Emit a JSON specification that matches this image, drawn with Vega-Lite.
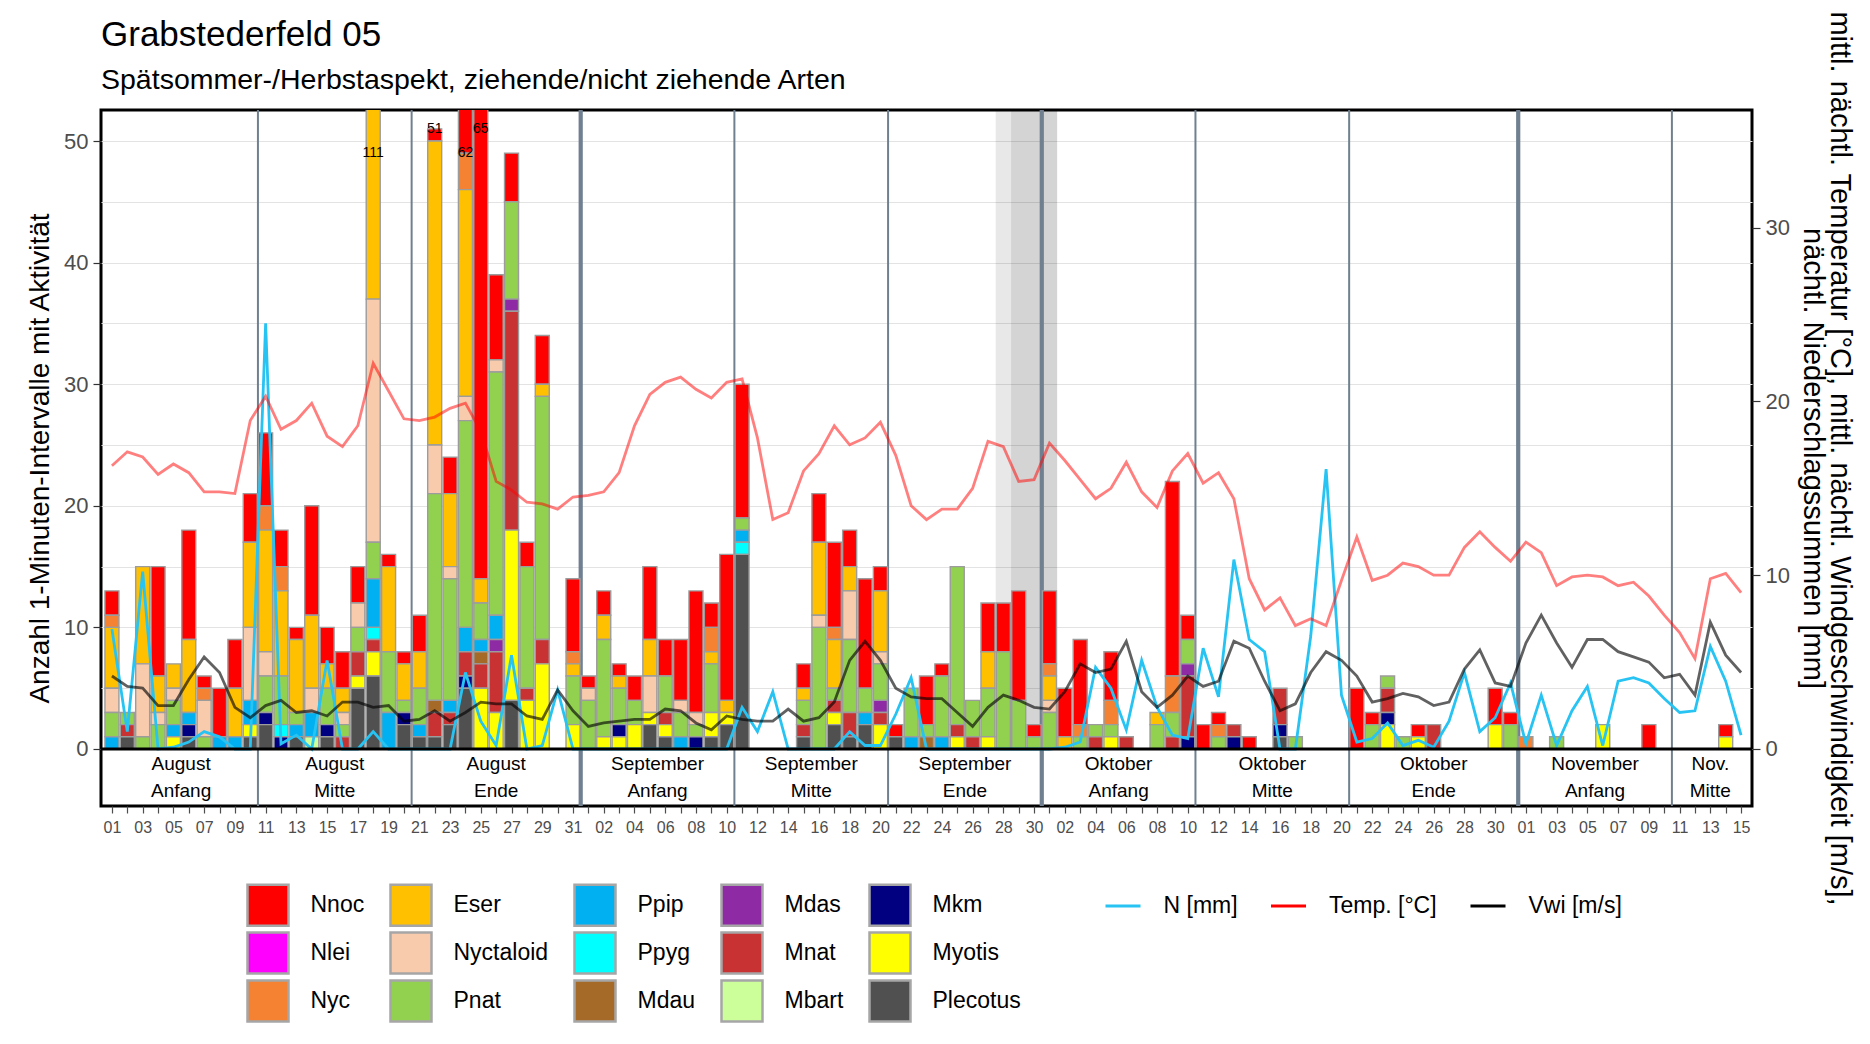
{
  "$schema": "https://vega.github.io/schema/vega-lite/v6.json",
  "width": 1651,
  "height": 696,
  "padding": {"left": 26, "top": 10, "right": 5, "bottom": 5},
  "background": "white",
  "title": {
    "text": "Grabstederfeld 05",
    "subtitle": "Spätsommer-/Herbstaspekt, ziehende/nicht ziehende Arten",
    "anchor": "start",
    "frame": "group",
    "fontSize": 35,
    "fontWeight": "normal",
    "color": "black",
    "subtitleFontSize": 28.5,
    "subtitleColor": "black",
    "subtitlePadding": 13,
    "offset": -84
  },
  "config": {
    "font": "Liberation Sans",
    "view": {"stroke": "black", "strokeWidth": 3},
    "legend": {"labelFont": "Liberation Sans", "padding": 0}
  },
  "datasets": {
    "bats": [
      {"date":"2021-08-01","Nnoc":2,"Nyc":1,"Eser":5,"Nyctaloid":2,"Pnat":2,"Ppip":1},
      {"date":"2021-08-02","Pnat":1,"Mnat":1,"Plecotus":1},
      {"date":"2021-08-03","Eser":8,"Nyctaloid":6,"Pnat":1},
      {"date":"2021-08-04","Nnoc":9,"Eser":3,"Nyctaloid":1,"Pnat":2},
      {"date":"2021-08-05","Eser":2,"Nyctaloid":1,"Pnat":2,"Ppip":1,"Myotis":1},
      {"date":"2021-08-06","Nnoc":9,"Eser":6,"Ppip":1,"Mkm":1,"Plecotus":1},
      {"date":"2021-08-07","Nnoc":1,"Nyc":1,"Nyctaloid":3,"Pnat":1},
      {"date":"2021-08-08","Nnoc":4,"Ppip":1},
      {"date":"2021-08-09","Nnoc":4,"Eser":4,"Ppip":1},
      {"date":"2021-08-10","Nnoc":4,"Eser":7,"Nyctaloid":6,"Ppip":2,"Myotis":1,"Plecotus":1},
      {"date":"2021-08-11","Nnoc":6,"Nyc":2,"Eser":10,"Nyctaloid":2,"Pnat":3,"Mkm":1,"Plecotus":2},
      {"date":"2021-08-12","Nnoc":3,"Nyc":2,"Eser":7,"Pnat":4,"Ppyg":1,"Mkm":1},
      {"date":"2021-08-13","Nnoc":1,"Eser":6,"Pnat":1,"Ppip":1,"Plecotus":1},
      {"date":"2021-08-14","Nnoc":9,"Eser":6,"Nyctaloid":2,"Ppip":2,"Mbart":1},
      {"date":"2021-08-15","Nnoc":3,"Eser":2,"Pnat":3,"Mkm":1,"Plecotus":1},
      {"date":"2021-08-16","Nnoc":3,"Eser":2,"Nyctaloid":1,"Pnat":1,"Mnat":1},
      {"date":"2021-08-17","Nnoc":3,"Nyctaloid":2,"Pnat":2,"Mnat":2,"Myotis":1,"Plecotus":5},
      {"date":"2021-08-18","Eser":74,"Nyctaloid":20,"Pnat":3,"Ppip":4,"Ppyg":1,"Mnat":1,"Myotis":2,"Plecotus":6},
      {"date":"2021-08-19","Nnoc":1,"Eser":7,"Pnat":5,"Ppip":3},
      {"date":"2021-08-20","Nnoc":1,"Eser":3,"Pnat":1,"Mkm":1,"Plecotus":2},
      {"date":"2021-08-21","Nnoc":3,"Eser":3,"Pnat":3,"Ppip":1,"Plecotus":1},
      {"date":"2021-08-22","Nnoc":1,"Eser":25,"Nyctaloid":4,"Pnat":17,"Mdau":1,"Mnat":2,"Plecotus":1},
      {"date":"2021-08-23","Nnoc":3,"Eser":6,"Nyctaloid":1,"Pnat":10,"Ppip":1,"Mnat":1,"Plecotus":2},
      {"date":"2021-08-24","Nnoc":13,"Nyc":3,"Eser":17,"Nyctaloid":2,"Pnat":17,"Ppip":2,"Mnat":2,"Mkm":1,"Plecotus":5},
      {"date":"2021-08-25","Nnoc":51,"Eser":2,"Pnat":3,"Ppip":1,"Mdau":1,"Mnat":2,"Myotis":5},
      {"date":"2021-08-26","Nnoc":7,"Nyctaloid":1,"Pnat":20,"Ppip":2,"Mdas":1,"Mnat":5,"Myotis":3},
      {"date":"2021-08-27","Nnoc":4,"Pnat":8,"Mdas":1,"Mnat":18,"Myotis":14,"Plecotus":4},
      {"date":"2021-08-28","Nnoc":2,"Pnat":10,"Mnat":1,"Myotis":4},
      {"date":"2021-08-29","Nnoc":4,"Eser":1,"Pnat":20,"Mnat":2,"Myotis":7},
      {"date":"2021-08-30"},
      {"date":"2021-08-31","Nnoc":6,"Nyc":1,"Eser":1,"Pnat":4,"Myotis":2},
      {"date":"2021-09-01","Nnoc":1,"Nyctaloid":1,"Pnat":4},
      {"date":"2021-09-02","Nnoc":2,"Eser":2,"Pnat":8,"Myotis":1},
      {"date":"2021-09-03","Nnoc":1,"Eser":1,"Pnat":3,"Mkm":1,"Myotis":1},
      {"date":"2021-09-04","Nnoc":2,"Pnat":2,"Myotis":2},
      {"date":"2021-09-05","Nnoc":6,"Eser":3,"Nyctaloid":3,"Myotis":1,"Plecotus":2},
      {"date":"2021-09-06","Nnoc":3,"Pnat":3,"Mnat":1,"Myotis":1,"Plecotus":1},
      {"date":"2021-09-07","Nnoc":5,"Nyctaloid":1,"Pnat":2,"Ppip":1},
      {"date":"2021-09-08","Nnoc":10,"Nyctaloid":1,"Pnat":1,"Mkm":1},
      {"date":"2021-09-09","Nnoc":2,"Nyc":2,"Eser":1,"Pnat":4,"Myotis":2,"Plecotus":1},
      {"date":"2021-09-10","Nnoc":12,"Eser":1,"Myotis":1,"Plecotus":2},
      {"date":"2021-09-11","Nnoc":11,"Pnat":1,"Ppip":1,"Ppyg":1,"Plecotus":16},
      {"date":"2021-09-12"},
      {"date":"2021-09-13"},
      {"date":"2021-09-14"},
      {"date":"2021-09-15","Nnoc":2,"Eser":1,"Pnat":2,"Mnat":1,"Plecotus":1},
      {"date":"2021-09-16","Nnoc":4,"Eser":6,"Nyctaloid":1,"Pnat":10},
      {"date":"2021-09-17","Nnoc":7,"Nyc":1,"Eser":4,"Pnat":1,"Mnat":1,"Myotis":1,"Plecotus":2},
      {"date":"2021-09-18","Nnoc":3,"Eser":2,"Nyctaloid":4,"Pnat":6,"Mnat":2,"Plecotus":1},
      {"date":"2021-09-19","Nnoc":9,"Pnat":2,"Ppip":1,"Plecotus":2},
      {"date":"2021-09-20","Nnoc":2,"Eser":5,"Nyctaloid":1,"Pnat":3,"Mdas":1,"Mnat":1,"Myotis":2},
      {"date":"2021-09-21","Nnoc":1,"Plecotus":1},
      {"date":"2021-09-22","Pnat":4,"Ppip":1},
      {"date":"2021-09-23","Nnoc":4,"Pnat":1,"Mdau":1},
      {"date":"2021-09-24","Nnoc":1,"Pnat":5,"Ppip":1},
      {"date":"2021-09-25","Pnat":13,"Mnat":1,"Myotis":1},
      {"date":"2021-09-26","Pnat":3,"Mnat":1},
      {"date":"2021-09-27","Nnoc":4,"Eser":3,"Pnat":4,"Myotis":1},
      {"date":"2021-09-28","Nnoc":4,"Pnat":8},
      {"date":"2021-09-29","Nnoc":9,"Pnat":4},
      {"date":"2021-09-30","Nnoc":1,"Pnat":1},
      {"date":"2021-10-01","Nnoc":6,"Nyc":1,"Eser":2,"Nyctaloid":1,"Pnat":3},
      {"date":"2021-10-02","Nnoc":4,"Eser":1},
      {"date":"2021-10-03","Nnoc":7,"Nyc":1,"Pnat":1},
      {"date":"2021-10-04","Pnat":1,"Mnat":1},
      {"date":"2021-10-05","Nnoc":4,"Nyc":2,"Pnat":1,"Myotis":1},
      {"date":"2021-10-06","Mnat":1},
      {"date":"2021-10-07"},
      {"date":"2021-10-08","Eser":1,"Pnat":2},
      {"date":"2021-10-09","Nnoc":16,"Nyc":3,"Pnat":2,"Mnat":1},
      {"date":"2021-10-10","Nnoc":2,"Pnat":2,"Mdas":1,"Mnat":5,"Mkm":1},
      {"date":"2021-10-11","Nnoc":2},
      {"date":"2021-10-12","Nnoc":1,"Nyc":1,"Pnat":1},
      {"date":"2021-10-13","Mnat":1,"Mkm":1},
      {"date":"2021-10-14","Nnoc":1},
      {"date":"2021-10-15"},
      {"date":"2021-10-16","Mnat":3,"Mkm":1,"Plecotus":1},
      {"date":"2021-10-17","Pnat":1},
      {"date":"2021-10-18"},
      {"date":"2021-10-19"},
      {"date":"2021-10-20"},
      {"date":"2021-10-21","Nnoc":5},
      {"date":"2021-10-22","Nnoc":1,"Pnat":2},
      {"date":"2021-10-23","Pnat":1,"Mnat":2,"Mkm":1,"Myotis":2},
      {"date":"2021-10-24","Pnat":1},
      {"date":"2021-10-25","Nnoc":1,"Myotis":1},
      {"date":"2021-10-26","Mnat":2},
      {"date":"2021-10-27"},
      {"date":"2021-10-28"},
      {"date":"2021-10-29"},
      {"date":"2021-10-30","Nnoc":3,"Myotis":2},
      {"date":"2021-10-31","Nnoc":1,"Pnat":2},
      {"date":"2021-11-01","Nyc":1},
      {"date":"2021-11-02"},
      {"date":"2021-11-03","Pnat":1},
      {"date":"2021-11-04"},
      {"date":"2021-11-05"},
      {"date":"2021-11-06","Myotis":2},
      {"date":"2021-11-07"},
      {"date":"2021-11-08"},
      {"date":"2021-11-09","Nnoc":2},
      {"date":"2021-11-10"},
      {"date":"2021-11-11"},
      {"date":"2021-11-12"},
      {"date":"2021-11-13"},
      {"date":"2021-11-14","Nnoc":1,"Myotis":1},
      {"date":"2021-11-15"}
    ],
    "weather": [
      {"date":"2021-08-01","N":6.9,"Temp":16.3,"Vwi":4.2},
      {"date":"2021-08-02","N":1.0,"Temp":17.1,"Vwi":3.6},
      {"date":"2021-08-03","N":10.2,"Temp":16.8,"Vwi":3.5},
      {"date":"2021-08-04","N":0,"Temp":15.8,"Vwi":2.5},
      {"date":"2021-08-05","N":0.1,"Temp":16.4,"Vwi":2.5},
      {"date":"2021-08-06","N":0.4,"Temp":15.9,"Vwi":4.0},
      {"date":"2021-08-07","N":1.0,"Temp":14.8,"Vwi":5.3},
      {"date":"2021-08-08","N":0.7,"Temp":14.8,"Vwi":4.4},
      {"date":"2021-08-09","N":0,"Temp":14.7,"Vwi":2.4},
      {"date":"2021-08-10","N":0,"Temp":18.9,"Vwi":1.8},
      {"date":"2021-08-11","N":24.5,"Temp":20.3,"Vwi":2.5},
      {"date":"2021-08-12","N":0.3,"Temp":18.4,"Vwi":2.8},
      {"date":"2021-08-13","N":0.8,"Temp":18.9,"Vwi":2.1},
      {"date":"2021-08-14","N":0,"Temp":19.9,"Vwi":2.2},
      {"date":"2021-08-15","N":5.1,"Temp":18.0,"Vwi":1.9},
      {"date":"2021-08-16","N":0,"Temp":17.4,"Vwi":2.7},
      {"date":"2021-08-17","N":0,"Temp":18.6,"Vwi":2.7},
      {"date":"2021-08-18","N":1.0,"Temp":22.2,"Vwi":2.4},
      {"date":"2021-08-19","N":0,"Temp":20.6,"Vwi":2.5},
      {"date":"2021-08-20","N":0,"Temp":19.0,"Vwi":1.6},
      {"date":"2021-08-21","N":0,"Temp":18.9,"Vwi":1.7},
      {"date":"2021-08-22","N":0,"Temp":19.1,"Vwi":2.2},
      {"date":"2021-08-23","N":0,"Temp":19.6,"Vwi":1.6},
      {"date":"2021-08-24","N":4.4,"Temp":19.9,"Vwi":2.1},
      {"date":"2021-08-25","N":1.6,"Temp":18.3,"Vwi":2.7},
      {"date":"2021-08-26","N":0.2,"Temp":15.4,"Vwi":2.6},
      {"date":"2021-08-27","N":5.4,"Temp":14.9,"Vwi":2.6},
      {"date":"2021-08-28","N":0,"Temp":14.2,"Vwi":1.9},
      {"date":"2021-08-29","N":0.2,"Temp":14.1,"Vwi":1.7},
      {"date":"2021-08-30","N":3.4,"Temp":13.8,"Vwi":3.4},
      {"date":"2021-08-31","N":0,"Temp":14.5,"Vwi":2.2},
      {"date":"2021-09-01","N":0,"Temp":14.6,"Vwi":1.3},
      {"date":"2021-09-02","N":0,"Temp":14.8,"Vwi":1.5},
      {"date":"2021-09-03","N":0,"Temp":15.9,"Vwi":1.6},
      {"date":"2021-09-04","N":0,"Temp":18.6,"Vwi":1.7},
      {"date":"2021-09-05","N":0,"Temp":20.4,"Vwi":1.7},
      {"date":"2021-09-06","N":0,"Temp":21.1,"Vwi":2.3},
      {"date":"2021-09-07","N":0,"Temp":21.4,"Vwi":2.2},
      {"date":"2021-09-08","N":0,"Temp":20.7,"Vwi":1.5},
      {"date":"2021-09-09","N":0,"Temp":20.2,"Vwi":1.1},
      {"date":"2021-09-10","N":0,"Temp":21.1,"Vwi":1.9},
      {"date":"2021-09-11","N":2.4,"Temp":21.3,"Vwi":1.7},
      {"date":"2021-09-12","N":1.0,"Temp":17.9,"Vwi":1.6},
      {"date":"2021-09-13","N":3.3,"Temp":13.2,"Vwi":1.6},
      {"date":"2021-09-14","N":0,"Temp":13.6,"Vwi":2.3},
      {"date":"2021-09-15","N":0,"Temp":16.0,"Vwi":1.6},
      {"date":"2021-09-16","N":0,"Temp":17.0,"Vwi":1.8},
      {"date":"2021-09-17","N":0,"Temp":18.6,"Vwi":2.7},
      {"date":"2021-09-18","N":1.0,"Temp":17.5,"Vwi":5.1},
      {"date":"2021-09-19","N":0.2,"Temp":17.9,"Vwi":6.2},
      {"date":"2021-09-20","N":0.2,"Temp":18.8,"Vwi":5.1},
      {"date":"2021-09-21","N":2.0,"Temp":16.9,"Vwi":3.5},
      {"date":"2021-09-22","N":4.1,"Temp":14.0,"Vwi":3.0},
      {"date":"2021-09-23","N":0,"Temp":13.2,"Vwi":2.9},
      {"date":"2021-09-24","N":0,"Temp":13.8,"Vwi":2.9},
      {"date":"2021-09-25","N":0,"Temp":13.8,"Vwi":2.1},
      {"date":"2021-09-26","N":0,"Temp":15.0,"Vwi":1.3},
      {"date":"2021-09-27","N":0,"Temp":17.7,"Vwi":2.4},
      {"date":"2021-09-28","N":0,"Temp":17.4,"Vwi":3.1},
      {"date":"2021-09-29","N":0,"Temp":15.4,"Vwi":2.8},
      {"date":"2021-09-30","N":0,"Temp":15.5,"Vwi":2.4},
      {"date":"2021-10-01","N":0,"Temp":17.6,"Vwi":2.3},
      {"date":"2021-10-02","N":0.1,"Temp":16.6,"Vwi":3.3},
      {"date":"2021-10-03","N":0.4,"Temp":15.5,"Vwi":4.9},
      {"date":"2021-10-04","N":4.7,"Temp":14.4,"Vwi":4.4},
      {"date":"2021-10-05","N":3.5,"Temp":15.0,"Vwi":4.6},
      {"date":"2021-10-06","N":1.1,"Temp":16.5,"Vwi":6.2},
      {"date":"2021-10-07","N":5.1,"Temp":14.8,"Vwi":3.3},
      {"date":"2021-10-08","N":2.4,"Temp":13.9,"Vwi":2.4},
      {"date":"2021-10-09","N":0.8,"Temp":16.0,"Vwi":3.1},
      {"date":"2021-10-10","N":0.6,"Temp":17.0,"Vwi":4.2},
      {"date":"2021-10-11","N":5.8,"Temp":15.3,"Vwi":3.6},
      {"date":"2021-10-12","N":3.0,"Temp":15.9,"Vwi":3.9},
      {"date":"2021-10-13","N":10.9,"Temp":14.4,"Vwi":6.2},
      {"date":"2021-10-14","N":6.3,"Temp":9.8,"Vwi":5.8},
      {"date":"2021-10-15","N":5.6,"Temp":8.0,"Vwi":3.9},
      {"date":"2021-10-16","N":0,"Temp":8.7,"Vwi":2.2},
      {"date":"2021-10-17","N":0,"Temp":7.1,"Vwi":2.6},
      {"date":"2021-10-18","N":6.5,"Temp":7.5,"Vwi":4.4},
      {"date":"2021-10-19","N":16.1,"Temp":7.1,"Vwi":5.6},
      {"date":"2021-10-20","N":3.1,"Temp":9.7,"Vwi":5.1},
      {"date":"2021-10-21","N":0.4,"Temp":12.2,"Vwi":4.2},
      {"date":"2021-10-22","N":0.6,"Temp":9.7,"Vwi":2.7},
      {"date":"2021-10-23","N":1.5,"Temp":10.0,"Vwi":2.9},
      {"date":"2021-10-24","N":0.2,"Temp":10.7,"Vwi":3.2},
      {"date":"2021-10-25","N":0.5,"Temp":10.5,"Vwi":3.0},
      {"date":"2021-10-26","N":0.1,"Temp":10.0,"Vwi":2.5},
      {"date":"2021-10-27","N":1.6,"Temp":10.0,"Vwi":2.7},
      {"date":"2021-10-28","N":4.4,"Temp":11.6,"Vwi":4.6},
      {"date":"2021-10-29","N":1.0,"Temp":12.5,"Vwi":5.7},
      {"date":"2021-10-30","N":1.8,"Temp":11.6,"Vwi":3.8},
      {"date":"2021-10-31","N":3.8,"Temp":10.8,"Vwi":3.6},
      {"date":"2021-11-01","N":0.3,"Temp":11.9,"Vwi":6.1},
      {"date":"2021-11-02","N":3.1,"Temp":11.3,"Vwi":7.7},
      {"date":"2021-11-03","N":0.2,"Temp":9.4,"Vwi":6.1},
      {"date":"2021-11-04","N":2.2,"Temp":9.9,"Vwi":4.7},
      {"date":"2021-11-05","N":3.6,"Temp":10.0,"Vwi":6.3},
      {"date":"2021-11-06","N":0.2,"Temp":9.9,"Vwi":6.3},
      {"date":"2021-11-07","N":3.9,"Temp":9.4,"Vwi":5.6},
      {"date":"2021-11-08","N":4.1,"Temp":9.6,"Vwi":5.3},
      {"date":"2021-11-09","N":3.8,"Temp":8.8,"Vwi":5.0},
      {"date":"2021-11-10","N":2.9,"Temp":7.7,"Vwi":4.1},
      {"date":"2021-11-11","N":2.1,"Temp":6.7,"Vwi":4.3},
      {"date":"2021-11-12","N":2.2,"Temp":5.2,"Vwi":3.1},
      {"date":"2021-11-13","N":5.9,"Temp":9.8,"Vwi":7.3},
      {"date":"2021-11-14","N":3.9,"Temp":10.1,"Vwi":5.4},
      {"date":"2021-11-15","N":0.8,"Temp":9.0,"Vwi":4.4}
    ],
    "periods": [
      {"month":"August","part":"Anfang","start":"2021-08-01","end":"2021-08-10"},
      {"month":"August","part":"Mitte","start":"2021-08-11","end":"2021-08-20"},
      {"month":"August","part":"Ende","start":"2021-08-21","end":"2021-08-31"},
      {"month":"September","part":"Anfang","start":"2021-09-01","end":"2021-09-10"},
      {"month":"September","part":"Mitte","start":"2021-09-11","end":"2021-09-20"},
      {"month":"September","part":"Ende","start":"2021-09-21","end":"2021-09-30"},
      {"month":"Oktober","part":"Anfang","start":"2021-10-01","end":"2021-10-10"},
      {"month":"Oktober","part":"Mitte","start":"2021-10-11","end":"2021-10-20"},
      {"month":"Oktober","part":"Ende","start":"2021-10-21","end":"2021-10-31"},
      {"month":"November","part":"Anfang","start":"2021-11-01","end":"2021-11-10"},
      {"month":"Nov.","part":"Mitte","start":"2021-11-11","end":"2021-11-15"}
    ],
    "gaps": [
      {"start":"2021-09-28","end":"2021-09-28","status":"teilweise"},
      {"start":"2021-09-29","end":"2021-10-01","status":"Ausfall"}
    ]
  },
  "layer": [
    {
      "layer": [
        {
          "data": {"name": "gaps"},
          "transform": [
            {"calculate": "toDate(datum.start) - 43200000", "as": "x0"},
            {"calculate": "toDate(datum.end) + 43200000", "as": "x1"}
          ],
          "mark": {"type": "rect", "color": "black"},
          "encoding": {
            "x": {"field": "x0", "type": "temporal"},
            "x2": {"field": "x1"},
            "y": {"datum": 0, "type": "quantitative"},
            "y2": {"datum": 52.55},
            "fillOpacity": {"condition": {"test": "datum.status === 'teilweise'", "value": 0.09}, "value": 0.17}
          }
        },
        {
          "data": {"name": "periods"},
          "transform": [
            {"filter": "datum.start !== '2021-08-01'"},
            {"calculate": "toDate(datum.start) - 43200000", "as": "edge"}
          ],
          "mark": {"type": "rule", "color": "#708090", "clip": true},
          "encoding": {
            "x": {"field": "edge", "type": "temporal"},
            "strokeWidth": {"condition": {"test": "datum.part === 'Anfang'", "value": 4.2}, "value": 2}
          }
        },
        {
          "data": {"name": "bats"},
          "transform": [
            {"fold": ["Nnoc","Nlei","Nyc","Eser","Nyctaloid","Pnat","Ppip","Ppyg","Mdau","Mdas","Mnat","Mbart","Mkm","Myotis","Plecotus"], "as": ["Art", "n"]},
            {"filter": "datum.n > 0"},
            {"calculate": "indexof(['Plecotus','Myotis','Mkm','Mbart','Mnat','Mdas','Mdau','Ppyg','Ppip','Pnat','Nyctaloid','Eser','Nyc','Nlei','Nnoc'], datum.Art)", "as": "rank"}
          ],
          "mark": {"type": "bar", "size": 14, "stroke": "#9C9C9C", "strokeWidth": 1.4, "clip": true},
          "encoding": {
            "x": {
              "field": "date",
              "type": "temporal",
              "scale": {
                "type": "utc",
                "domain": [
                  {"year": 2021, "month": 7, "date": 31, "hours": 14, "minutes": 44, "utc": true},
                  {"year": 2021, "month": 11, "date": 15, "hours": 9, "minutes": 16, "utc": true}
                ]
              },
              "axis": {
                "orient": "bottom",
                "title": null,
                "domain": false,
                "grid": false,
                "tickCount": {"interval": "day", "step": 1},
                "tickSize": 7,
                "tickColor": "#4D4D4D",
                "tickWidth": 1.2,
                "labelExpr": "round((datum.value - utc(2021, 7, 1)) / 86400000) % 2 === 0 ? utcFormat(datum.value, '%d') : ''",
                "labelFontSize": 16,
                "labelColor": "#4D4D4D",
                "labelPadding": 6,
                "labelFlush": false,
                "labelOverlap": false,
                "labelBound": false
              }
            },
            "y": {
              "field": "n",
              "type": "quantitative",
              "stack": "zero",
              "scale": {"domain": [-4.69, 52.55], "nice": false, "zero": false},
              "axis": {
                "orient": "left",
                "values": [0, 5, 10, 15, 20, 25, 30, 35, 40, 45, 50],
                "labelExpr": "datum.value % 10 === 0 ? datum.label : ''",
                "tickColor": {"condition": {"test": "datum.value % 10 !== 0", "value": "transparent"}, "value": "#333333"},
                "tickSize": 8,
                "tickWidth": 1.2,
                "grid": true,
                "gridColor": "#E3E3E3",
                "gridWidth": 1.2,
                "domain": false,
                "labelFontSize": 22,
                "labelColor": "#4D4D4D",
                "labelPadding": 5,
                "title": "Anzahl 1-Minuten-Intervalle mit Aktivität",
                "titleFontSize": 28,
                "titleFontWeight": "normal",
                "titleColor": "black",
                "titlePadding": 9
              }
            },
            "color": {
              "field": "Art",
              "type": "nominal",
              "scale": {
                "domain": ["Nnoc","Nlei","Nyc","Eser","Nyctaloid","Pnat","Ppip","Ppyg","Mdau","Mdas","Mnat","Mbart","Mkm","Myotis","Plecotus"],
                "range": ["#FF0000","#FF00FF","#F58232","#FFC000","#F8CBAD","#92D050","#00B0F0","#00FFFF","#A66A28","#8E2AA3","#C83232","#CCFF99","#000080","#FFFF00","#505050"]
              },
              "legend": {
                "title": null,
                "orient": "none",
                "legendX": 145,
                "legendY": 773,
                "columns": 5,
                "symbolType": "square",
                "symbolSize": 1681,
                "symbolStrokeColor": "#A6A6A6",
                "symbolStrokeWidth": 2.5,
                "symbolOpacity": 1,
                "labelOffset": 20.5,
                "columnPadding": 20,
                "rowPadding": -6.5,
                "labelFontSize": 23,
                "labelColor": "black",
                "labelLimit": 300
              }
            },
            "order": {"field": "rank", "type": "quantitative"}
          }
        },
        {
          "data": {"name": "bats"},
          "transform": [
            {"fold": ["Nnoc","Nlei","Nyc","Eser","Nyctaloid","Pnat","Ppip","Ppyg","Mdau","Mdas","Mnat","Mbart","Mkm","Myotis","Plecotus"], "as": ["Art", "n"]},
            {"filter": "datum.n > 0"},
            {"aggregate": [{"op": "sum", "field": "n", "as": "total"}], "groupby": ["date"]},
            {"filter": "datum.total > 50 && (utcdate(datum.date) === 22 || utcdate(datum.date) === 25)"}
          ],
          "mark": {"type": "text", "fontSize": 14, "color": "black", "baseline": "middle"},
          "encoding": {
            "x": {"field": "date", "type": "temporal"},
            "y": {"datum": 51, "type": "quantitative"},
            "text": {"field": "total", "type": "quantitative"}
          }
        },
        {
          "data": {"name": "bats"},
          "transform": [
            {"fold": ["Nnoc","Nlei","Nyc","Eser","Nyctaloid","Pnat","Ppip","Ppyg","Mdau","Mdas","Mnat","Mbart","Mkm","Myotis","Plecotus"], "as": ["Art", "n"]},
            {"filter": "datum.n > 0"},
            {"aggregate": [{"op": "sum", "field": "n", "as": "total"}], "groupby": ["date"]},
            {"filter": "datum.total > 50 && utcdate(datum.date) !== 22 && utcdate(datum.date) !== 25"}
          ],
          "mark": {"type": "text", "fontSize": 14, "color": "black", "baseline": "middle"},
          "encoding": {
            "x": {"field": "date", "type": "temporal"},
            "y": {"datum": 49, "type": "quantitative"},
            "text": {"field": "total", "type": "quantitative"}
          }
        },
        {
          "data": {"name": "periods"},
          "transform": [
            {"calculate": "(toDate(datum.start) + toDate(datum.end)) / 2", "as": "mid"}
          ],
          "mark": {"type": "text", "fontSize": 19, "color": "black", "baseline": "middle"},
          "encoding": {
            "x": {"field": "mid", "type": "temporal"},
            "y": {"datum": -1.23, "type": "quantitative"},
            "text": {"field": "month", "type": "nominal"}
          }
        },
        {
          "data": {"name": "periods"},
          "transform": [
            {"calculate": "(toDate(datum.start) + toDate(datum.end)) / 2", "as": "mid"}
          ],
          "mark": {"type": "text", "fontSize": 19, "color": "black", "baseline": "middle"},
          "encoding": {
            "x": {"field": "mid", "type": "temporal"},
            "y": {"datum": -3.45, "type": "quantitative"},
            "text": {"field": "part", "type": "nominal"}
          }
        }
      ]
    },
    {
      "layer": [
        {
          "data": {"name": "weather"},
          "transform": [
            {"fold": ["N", "Temp", "Vwi"], "as": ["var", "val"]},
            {"filter": "datum.var === 'N'"}
          ],
          "mark": {"type": "line", "strokeWidth": 2.8},
          "encoding": {
            "x": {
              "field": "date",
              "type": "temporal",
              "scale": {
                "type": "utc",
                "domain": [
                  {"year": 2021, "month": 7, "date": 31, "hours": 14, "minutes": 44, "utc": true},
                  {"year": 2021, "month": 11, "date": 15, "hours": 9, "minutes": 16, "utc": true}
                ]
              }
            },
            "y": {
              "field": "val",
              "type": "quantitative",
              "scale": {"domain": [-3.28, 36.77], "nice": false, "zero": false},
              "axis": {
                "orient": "right",
                "values": [0, 10, 20, 30],
                "grid": false,
                "domain": false,
                "tickSize": 8,
                "tickWidth": 1.2,
                "tickColor": "#333333",
                "labelFontSize": 22,
                "labelColor": "#4D4D4D",
                "labelPadding": 5,
                "title": ["mittl. nächtl. Temperatur [°C], mittl. nächtl. Windgeschwindigkeit [m/s],", "nächtl. Niederschlagssummen [mm]"],
                "titleFontSize": 29,
                "titleFontWeight": "normal",
                "titleColor": "black",
                "titlePadding": 8,
                "titleLineHeight": 27
              }
            },
            "color": {
              "field": "var",
              "type": "nominal",
              "scale": {"domain": ["N", "Temp", "Vwi"], "range": ["#27C3F3", "#FF0000", "#000000"]},
              "legend": {
                "title": null,
                "orient": "none",
                "legendX": 1003,
                "legendY": 777,
                "direction": "horizontal",
                "symbolType": "stroke",
                "symbolSize": 1225,
                "symbolStrokeWidth": 3,
                "symbolOpacity": 1,
                "labelOffset": 21.5,
                "columnPadding": 26.5,
                "labelFontSize": 23,
                "labelColor": "black",
                "labelExpr": "datum.label === 'N' ? 'N [mm]' : datum.label === 'Temp' ? 'Temp. [°C]' : 'Vwi [m/s]'"
              }
            }
          }
        },
        {
          "data": {"name": "weather"},
          "transform": [
            {"fold": ["N", "Temp", "Vwi"], "as": ["var", "val"]},
            {"filter": "datum.var === 'Temp'"}
          ],
          "mark": {"type": "line", "strokeWidth": 2.8, "strokeOpacity": 0.5},
          "encoding": {
            "x": {"field": "date", "type": "temporal"},
            "y": {"field": "val", "type": "quantitative"},
            "color": {"field": "var", "type": "nominal"}
          }
        },
        {
          "data": {"name": "weather"},
          "transform": [
            {"fold": ["N", "Temp", "Vwi"], "as": ["var", "val"]},
            {"filter": "datum.var === 'Vwi'"}
          ],
          "mark": {"type": "line", "strokeWidth": 2.8, "strokeOpacity": 0.62},
          "encoding": {
            "x": {"field": "date", "type": "temporal"},
            "y": {"field": "val", "type": "quantitative"},
            "color": {"field": "var", "type": "nominal"}
          }
        },
        {
          "data": {"values": [{}]},
          "mark": {"type": "rule", "color": "black", "strokeWidth": 3},
          "encoding": {
            "y": {"datum": 0, "type": "quantitative"}
          }
        }
      ]
    }
  ],
  "resolve": {"scale": {"y": "independent", "color": "independent"}}
}
